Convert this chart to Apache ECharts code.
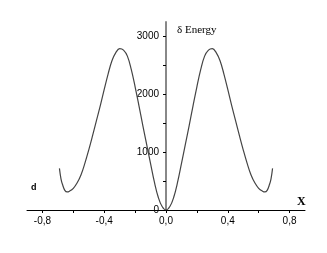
<!DOCTYPE html>
<html>
<head>
<meta charset="utf-8">
<script src="https://cdn.jsdelivr.net/npm/echarts@6/dist/echarts.min.js"></script>
<style>
html,body{margin:0;padding:0;background:#fff;}
#chart{width:327px;height:253px;}
</style>
</head>
<body>
<div id="chart"></div>
<script>
// Data
const xValues = [-0.69,-0.68,-0.67,-0.655,-0.64,-0.625,-0.6,-0.575,-0.55,-0.525,-0.5,-0.475,-0.45,-0.425,-0.4,-0.375,-0.35,-0.325,-0.3,-0.275,-0.25,-0.225,-0.2,-0.175,-0.15,-0.125,-0.1,-0.075,-0.05,-0.025,0,
  0.025,0.05,0.075,0.1,0.125,0.15,0.175,0.2,0.225,0.25,0.275,0.3,0.325,0.35,0.375,0.4,0.425,0.45,0.475,0.5,0.525,0.55,0.575,0.6,0.625,0.64,0.655,0.67,0.68,0.69];
const energyValues = [720,540,440,340,312,325,375,470,610,810,1040,1290,1550,1810,2085,2350,2580,2720,2790,2765,2660,2430,2130,1800,1460,1130,800,480,220,60,0,
  60,220,480,800,1130,1460,1800,2130,2430,2660,2765,2790,2720,2580,2350,2085,1810,1550,1290,1040,810,610,470,375,325,312,340,440,540,720];
const xTickValues = [-0.8,-0.6,-0.4,-0.2,0,0.2,0.4,0.6,0.8];
const xLabelValues = [-0.8,-0.4,0,0.4,0.8];
const yTickValues = [500,1000,1500,2000,2500,3000];
const yLabelValues = [0,1000,2000,3000];
const yTitle = 'δ Energy';
const xTitle = 'X';
const panelLabel = 'd';

const chart = echarts.init(document.getElementById('chart'), null, {renderer:'canvas'});
const seriesData = xValues.map((x,i)=>[x, energyValues[i]]);
const labelFont = {color:'#000', fontSize:10, fontFamily:'Liberation Sans, Arial, sans-serif'};

// main grid spans x from -0.9 to 0.9; second grid's left edge sits on x = 0
const gridLeft = 27, gridRight = 22, gridTop = 22, gridBottom = 43;
const zeroPx = gridLeft + (327 - gridLeft - gridRight) / 2;

chart.setOption({
  animation:false,
  backgroundColor:'#fff',
  title:[
    {text:yTitle, left:177, top:25, padding:0, textStyle:{fontFamily:'Liberation Serif, Times New Roman, serif', fontSize:11, fontWeight:'normal', color:'#000'}},
    {text:xTitle, left:297, top:196, padding:0, textStyle:{fontFamily:'Liberation Serif, Times New Roman, serif', fontSize:12, fontWeight:'bold', color:'#000'}},
    {text:panelLabel, left:31, top:183, padding:0, textStyle:{fontFamily:'Liberation Sans, Arial, sans-serif', fontSize:9, fontWeight:'bold', color:'#000'}}
  ],
  grid:[
    {left:gridLeft, right:gridRight, top:gridTop, bottom:gridBottom},
    {left:zeroPx, right:gridRight, top:gridTop, bottom:gridBottom}
  ],
  xAxis:[{
    type:'value', min:-0.9, max:0.9, gridIndex:0,
    axisLine:{onZero:false, lineStyle:{color:'#000', width:1}},
    axisTick:{show:true, inside:false, length:3, customValues:xTickValues, lineStyle:{color:'#000'}},
    axisLabel:{show:true, margin:6, customValues:xLabelValues, ...labelFont,
      formatter:v=>v.toFixed(1).replace('.',',')},
    splitLine:{show:false}
  },{
    type:'value', min:0, max:1, gridIndex:1, show:false
  }],
  yAxis:[{
    type:'value', min:0, max:3250, gridIndex:0, show:false
  },{
    type:'value', min:0, max:3250, gridIndex:1, position:'left',
    axisLine:{show:true, onZero:false, lineStyle:{color:'#888', width:2}},
    axisTick:{show:true, inside:false, length:3, customValues:yTickValues, lineStyle:{color:'#000'}},
    axisLabel:{show:true, margin:7, customValues:yLabelValues, ...labelFont,
      formatter:v=>String(v)},
    splitLine:{show:false}
  }],
  series:[{
    type:'line', data:seriesData, smooth:0.4, showSymbol:false, xAxisIndex:0, yAxisIndex:0,
    lineStyle:{color:'#444', width:1.2}, z:3
  }]
});
</script>
</body>
</html>
